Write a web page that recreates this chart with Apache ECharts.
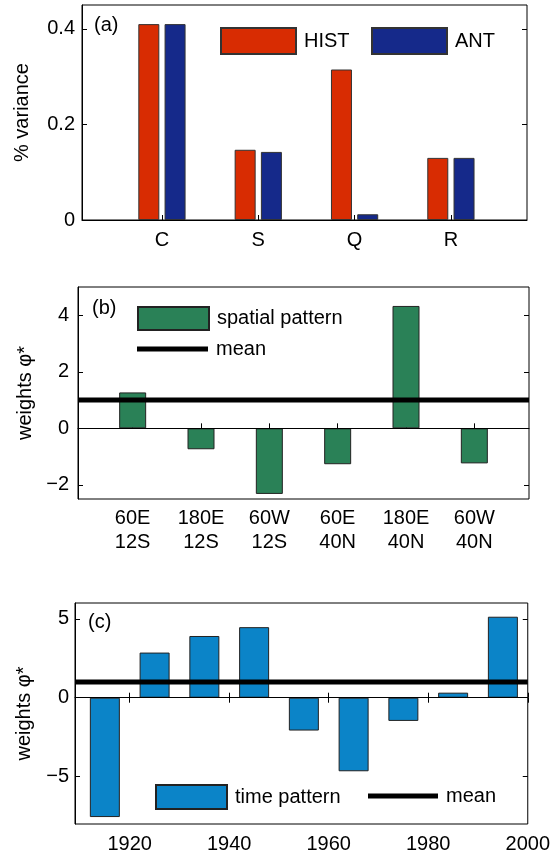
<!DOCTYPE html>
<html>
<head>
<meta charset="utf-8">
<script src="https://cdn.jsdelivr.net/npm/echarts@6/dist/echarts.min.js"></script>
<style>
  html, body { margin: 0; padding: 0; background: #fff; }
  #chart { width: 553px; height: 859px; }
</style>
</head>
<body>
<div id="chart"></div>
<script>
// panel (a)
var catA = ['C', 'S', 'Q', 'R'];
var histA = [0.41, 0.147, 0.315, 0.13];
var antA = [0.41, 0.1425, 0.012, 0.13];
var ticksA = [0, 0.2, 0.4];

// panel (b)
var catB = ['60E\n12S', '180E\n12S', '60W\n12S', '60E\n40N', '180E\n40N', '60W\n40N'];
var spatialB = [1.27, -0.74, -2.32, -1.27, 4.33, -1.24];
var meanB = 1;
var ticksB = [-2, 0, 2, 4];

// panel (c)
var yearsC = [1915, 1925, 1935, 1945, 1955, 1965, 1975, 1985, 1995];
var timeC = [-7.56, 2.86, 3.91, 4.47, -2.08, -4.66, -1.47, 0.32, 5.13];
var meanC = 1;
var ticksC = [-5, 0, 5];
var yearTicks = [1920, 1940, 1960, 1980, 2000];

var FONT = "'Liberation Sans', Arial, Helvetica, sans-serif";
var FS = 20;
var limA = [0.17, 4.79], limB = [0.2, 6.8], limC = [1909, 2000];

function minus(v) { return String(v).replace('-', '\u2212'); }
function idx(arr) { return arr.map(function (v, i) { return i + 1; }); }
function pairs(xs, ys) { return xs.map(function (x, i) { return [x, ys[i]]; }); }

var chart = echarts.init(document.getElementById('chart'));

function gridBox(left, top, width, height) {
  return { left: left, top: top, width: width, height: height, show: true,
    borderColor: '#000', borderWidth: 1, backgroundColor: '#fff', containLabel: false };
}

function xAx(gi, lim, ticks, fmt, margin, extra) {
  var ax = {
    type: 'value', gridIndex: gi, min: lim[0], max: lim[1],
    axisLine: { show: true, lineStyle: { color: '#000', width: 1 } },
    axisTick: { show: true, inside: true, length: 5, customValues: ticks, lineStyle: { color: '#000' } },
    axisLabel: { show: true, customValues: ticks, formatter: fmt, margin: margin,
      color: '#000', fontSize: FS, fontFamily: FONT },
    splitLine: { show: false }
  };
  return Object.assign(ax, extra || {});
}

function yAx(gi, lim, ticks, name, gap, margin, right) {
  return {
    type: 'value', gridIndex: gi, min: lim[0], max: lim[1], position: right ? 'right' : 'left',
    name: right ? '' : name, nameLocation: 'middle', nameGap: gap, nameRotate: 90,
    nameTextStyle: { color: '#000', fontSize: FS, fontFamily: FONT },
    axisLine: { show: !right, lineStyle: { color: '#000', width: 1 } },
    axisTick: { show: true, inside: true, length: 5, customValues: ticks, lineStyle: { color: '#000' } },
    axisLabel: { show: !right, customValues: ticks, margin: margin, formatter: minus,
      color: '#000', fontSize: FS, fontFamily: FONT },
    splitLine: { show: false }
  };
}

var zeroLine = {
  silent: true, symbol: ['none', 'none'], label: { show: false },
  lineStyle: { color: '#000', width: 1, type: 'solid' },
  data: [{ yAxis: 0 }]
};

function legendBox(name, left, top, w, h) {
  return {
    data: [{ name: name, icon: 'rect' }], left: left, top: top,
    itemWidth: w, itemHeight: h, selectedMode: false, padding: 0,
    textStyle: { color: '#000', fontSize: FS, fontFamily: FONT, padding: [0, 0, 0, 3] }
  };
}

var option = {
  animation: false,
  backgroundColor: '#fff',
  textStyle: { fontFamily: FONT },
  grid: [
    gridBox(82, 5, 445, 215),
    gridBox(78, 287, 451, 212),
    gridBox(75, 603, 454, 221)
  ],
  xAxis: [
    xAx(0, limA, idx(catA), function (v) { return catA[Math.round(v) - 1]; }, 10),
    xAx(1, limB, idx(catB), null, 8,
      { axisLabel: { show: true, customValues: idx(catB), margin: 7, lineHeight: 24,
        formatter: function (v) { return catB[Math.round(v) - 1]; },
        color: '#000', fontSize: FS, fontFamily: FONT } }),
    xAx(2, limC, yearTicks, function (v) { return String(v); }, 10),
    xAx(2, limC, yearTicks, null, 0, { position: 'top', axisLine: { show: false },
      axisLabel: { show: false } })
  ],
  yAxis: [
    yAx(0, [0, 0.45], ticksA, '% variance', 50, 7, false),
    yAx(1, [-2.5, 5], ticksB, 'weights \u03c6*', 42, 9, false),
    yAx(2, [-8, 6], ticksC, 'weights \u03c6*', 41, 6, false),
    yAx(0, [0, 0.45], ticksA, '', 0, 0, true),
    yAx(1, [-2.5, 5], ticksB, '', 0, 0, true),
    yAx(2, [-8, 6], ticksC, '', 0, 0, true)
  ],
  legend: [
    legendBox('HIST', 220, 27, 75, 26),
    legendBox('ANT', 371, 27, 75, 26),
    legendBox('spatial pattern', 137, 306, 71, 23),
    legendBox('mean', 137, 339, 71, 5),
    legendBox('time pattern', 155, 784, 71, 24),
    legendBox('mean', 368, 786, 70, 5)
  ],
  graphic: [
    { type: 'text', left: 94, top: 15, style: { text: '(a)', fontSize: FS, fontFamily: FONT, fill: '#000' } },
    { type: 'text', left: 92, top: 298, style: { text: '(b)', fontSize: FS, fontFamily: FONT, fill: '#000' } },
    { type: 'text', left: 88, top: 612, style: { text: '(c)', fontSize: FS, fontFamily: FONT, fill: '#000' } }
  ],
  series: [
    { name: 'HIST', type: 'bar', xAxisIndex: 0, yAxisIndex: 0, barWidth: 21, barGap: '25%',
      itemStyle: { color: '#d82c02', borderColor: '#333', borderWidth: 1 },
      data: pairs(idx(catA), histA) },
    { name: 'ANT', type: 'bar', xAxisIndex: 0, yAxisIndex: 0, barWidth: 21, barGap: '25%',
      itemStyle: { color: '#15298a', borderColor: '#333', borderWidth: 1 },
      data: pairs(idx(catA), antA) },
    { name: 'spatial pattern', type: 'bar', xAxisIndex: 1, yAxisIndex: 1, barWidth: 27,
      itemStyle: { color: '#2a8157', borderColor: '#222', borderWidth: 1 },
      markLine: zeroLine,
      data: pairs(idx(catB), spatialB) },
    { name: 'mean', type: 'line', xAxisIndex: 1, yAxisIndex: 1, z: 4, showSymbol: false,
      color: '#000', itemStyle: { color: '#000' }, lineStyle: { color: '#000', width: 5 },
      data: [[limB[0], meanB], [limB[1], meanB]] },
    { name: 'time pattern', type: 'bar', xAxisIndex: 2, yAxisIndex: 2, barWidth: 30,
      itemStyle: { color: '#0b84c8', borderColor: '#222', borderWidth: 1 },
      markLine: zeroLine,
      data: pairs(yearsC, timeC) },
    { name: 'mean', type: 'line', xAxisIndex: 2, yAxisIndex: 2, z: 4, showSymbol: false,
      color: '#000', itemStyle: { color: '#000' }, lineStyle: { color: '#000', width: 5 },
      data: [[limC[0], meanC], [limC[1], meanC]] }
  ]
};

chart.setOption(option);
</script>
</body>
</html>
